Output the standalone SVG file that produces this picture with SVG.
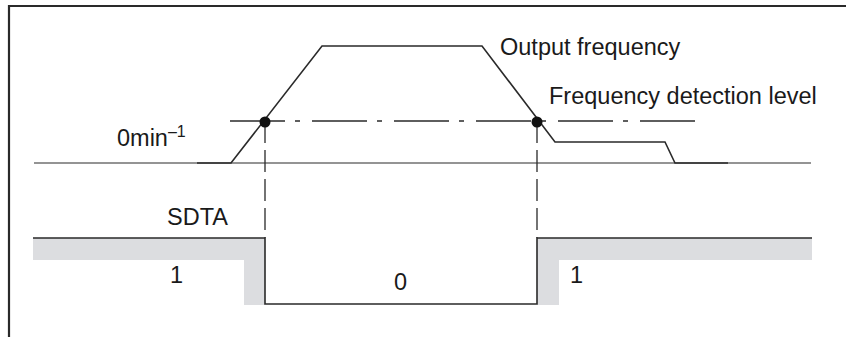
<svg xmlns="http://www.w3.org/2000/svg" width="846" height="337" viewBox="0 0 846 337">
<style>
.t{font-family:"Liberation Sans",Arial,sans-serif;font-size:23.5px;fill:#1a1a1a}
.ln{fill:none;stroke:#2a2a2a;stroke-width:1.4}
.dd{fill:none;stroke:#2a2a2a;stroke-width:1.3;stroke-dasharray:55 10 5 12}
.vd{fill:none;stroke:#2a2a2a;stroke-width:1.3;stroke-dasharray:22 7}
.gray{fill:#dcdde0;stroke:none}
</style>
<rect width="846" height="337" fill="#fff"/>
<g id="frame">
<path class="ln" d="M9,337 V6 H846" style="stroke-width:2.2"/>
</g>
<g id="sdta-shading">
<path class="gray" d="M33,238 H265 V305 H244 V260 H33 Z"/>
<path class="gray" d="M537,238 H812 V260 H559 V305 H537 Z"/>
</g>
<g id="connectors">
<line class="ln" x1="34" y1="163" x2="811" y2="163" style="stroke-width:1.2"/>
<polyline class="ln" points="197,163 231,163 322,46 482,46 555,142 665,142 675,163 728,163" style="stroke-width:1.6"/>
<line class="dd" x1="230" y1="121" x2="696" y2="121"/>
<line class="vd" x1="265" y1="121" x2="265" y2="238"/>
<line class="vd" x1="537" y1="121" x2="537" y2="238"/>
<polyline class="ln" points="33,238 265,238 265,304 537,304 537,238 812,238" style="stroke-width:1.6"/>
</g>
<g id="dot-left"><circle cx="265" cy="122" r="5.5" fill="#111"/></g>
<g id="dot-right"><circle cx="537" cy="122" r="5.5" fill="#111"/></g>
<g id="labels">
<text class="t" x="500" y="55">Output frequency</text>
<text class="t" x="549" y="104">Frequency detection level</text>
<text class="t" x="117" y="146">0min<tspan font-size="16" dy="-9">–1</tspan></text>
<text class="t" x="167" y="225">SDTA</text>
<text class="t" x="170" y="283">1</text>
<text class="t" x="394" y="290">0</text>
<text class="t" x="570" y="283">1</text>
</g>
</svg>
